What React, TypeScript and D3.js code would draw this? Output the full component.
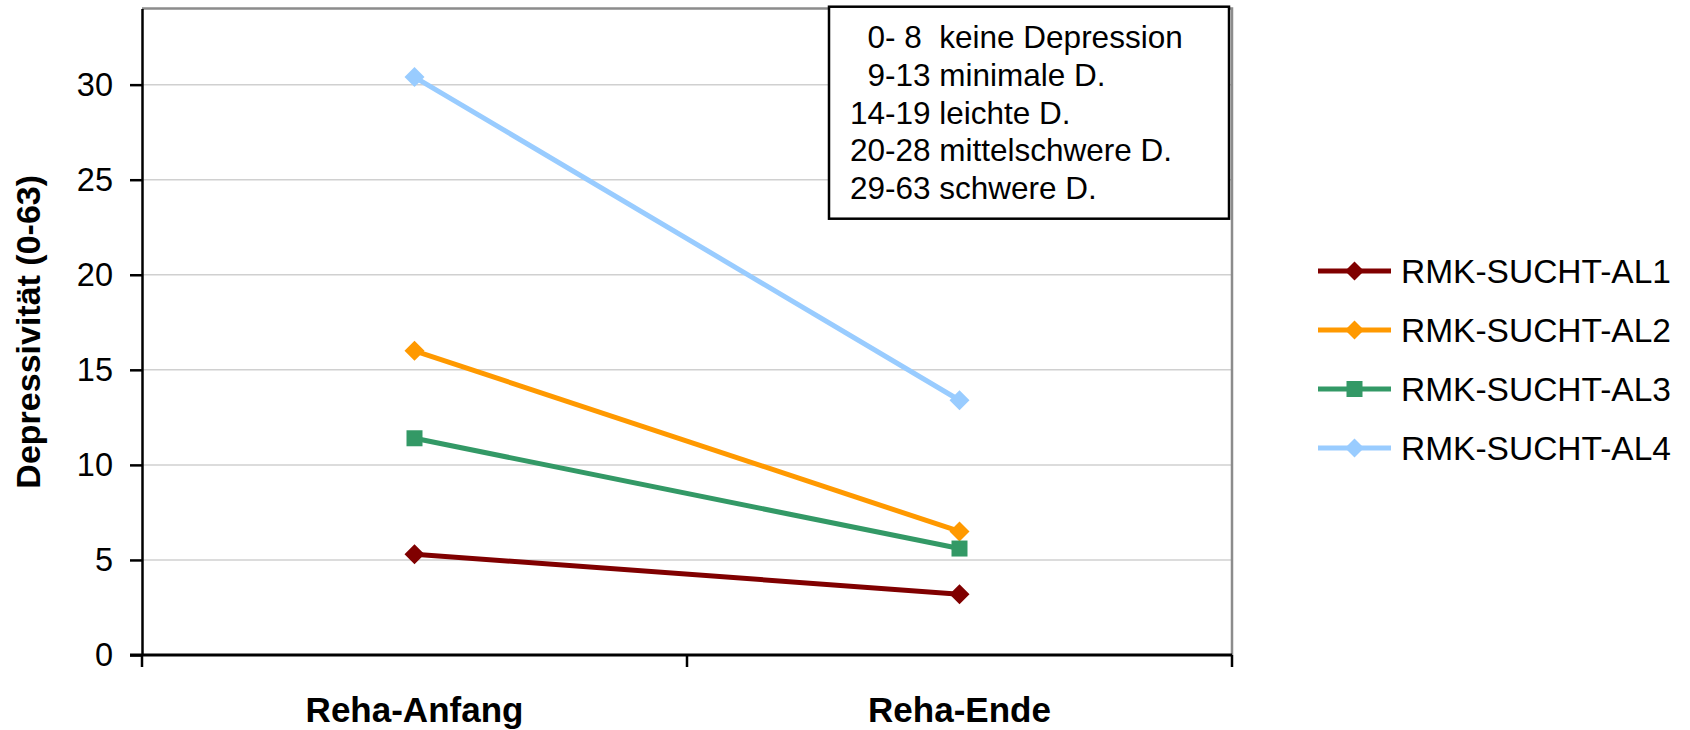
import React, { useEffect, useRef } from 'react';
import * as d3 from 'd3';

// categories on the x axis
const categories = ['Reha-Anfang', 'Reha-Ende'];

// series names and values (BDI score, 0-63)
const seriesNames = ['RMK-SUCHT-AL1', 'RMK-SUCHT-AL2', 'RMK-SUCHT-AL3', 'RMK-SUCHT-AL4'];
const al1 = [5.3, 3.2];
const al2 = [16.0, 6.5];
const al3 = [11.4, 5.6];
const al4 = [30.4, 13.4];
const seriesValues = [al1, al2, al3, al4];
const seriesColors = ['#800000', '#FF9900', '#339966', '#99CCFF'];
const seriesMarkers = ['diamond', 'diamond', 'square', 'diamond'];

// y axis
const yTicks = [0, 5, 10, 15, 20, 25, 30];
const yMax = 34;
const yTitle = 'Depressivität (0-63)';

// text box with the score ranges
const rangeLines = ['  0- 8  keine Depression', '  9-13 minimale D.', '14-19 leichte D.', '20-28 mittelschwere D.', '29-63 schwere D.'];

const W = 1690;
const H = 730;
const FONT = '"Liberation Sans", Arial, sans-serif';

const margin = { left: 142, right: W - 1232, top: 8.6, bottom: H - 655 };

function markerPath(kind: string, size: number): string {
  if (kind === 'square') {
    return d3.symbol(d3.symbolSquare, size)() as string;
  }
  // excel style diamond: a square turned 45 degrees
  const h = Math.sqrt(size / 2);
  return `M0,${-h}L${h},0L0,${h}L${-h},0Z`;
}

const App: React.FC = () => {
  const svgRef = useRef<SVGSVGElement>(null);

  useEffect(() => {
    if (!svgRef.current) return;
    const svg = d3.select(svgRef.current);
    svg.selectAll('*').remove();

    const x = d3.scaleBand<string>()
      .domain(categories)
      .range([margin.left, W - margin.right]);
    const y = d3.scaleLinear()
      .domain([0, yMax])
      .range([H - margin.bottom, margin.top]);

    const cx = (c: string) => (x(c) || 0) + x.bandwidth() / 2;

    // gridlines
    svg.append('g')
      .selectAll('line')
      .data(yTicks.filter(t => t > 0))
      .join('line')
      .attr('x1', margin.left)
      .attr('x2', W - margin.right)
      .attr('y1', d => y(d))
      .attr('y2', d => y(d))
      .attr('stroke', '#d0d0d0')
      .attr('stroke-width', 1.5);

    // plot area border (top and right)
    svg.append('path')
      .attr('d', `M${margin.left},${y(yMax)}H${W - margin.right}V${y(0)}`)
      .attr('fill', 'none')
      .attr('stroke', '#8c8c8c')
      .attr('stroke-width', 2.5);

    // y axis
    const yAxis = svg.append('g')
      .attr('transform', `translate(${margin.left},0)`)
      .call(d3.axisLeft(y).tickValues(yTicks).tickSize(12).tickSizeOuter(0).tickPadding(17));
    yAxis.select('.domain').attr('stroke', '#000').attr('stroke-width', 2.5);
    yAxis.selectAll('.tick line').attr('stroke', '#000').attr('stroke-width', 2.5);
    yAxis.selectAll('.tick text')
      .attr('font-family', FONT)
      .attr('font-size', 32.5)
      .attr('fill', '#000');

    // x axis: line, ticks between categories, labels under centers
    const xEdges = d3.range(categories.length + 1).map(i => margin.left + i * x.step());
    svg.append('line')
      .attr('x1', margin.left - 12)
      .attr('x2', W - margin.right)
      .attr('y1', y(0))
      .attr('y2', y(0))
      .attr('stroke', '#000')
      .attr('stroke-width', 3);
    svg.append('g')
      .selectAll('line')
      .data(xEdges)
      .join('line')
      .attr('x1', d => d)
      .attr('x2', d => d)
      .attr('y1', y(0))
      .attr('y2', y(0) + 12)
      .attr('stroke', '#000')
      .attr('stroke-width', 2.5);
    svg.append('g')
      .selectAll('text')
      .data(categories)
      .join('text')
      .attr('x', d => cx(d))
      .attr('y', 722)
      .attr('text-anchor', 'middle')
      .attr('font-family', FONT)
      .attr('font-weight', 'bold')
      .attr('font-size', 35)
      .text(d => d);

    // y title
    svg.append('text')
      .attr('transform', `translate(40,${(y(0) + y(yMax)) / 2}) rotate(-90)`)
      .attr('text-anchor', 'middle')
      .attr('font-family', FONT)
      .attr('font-weight', 'bold')
      .attr('font-size', 34)
      .text(yTitle);

    // series lines and markers
    const line = d3.line<number>()
      .x((_, i) => cx(categories[i]))
      .y(d => y(d));

    seriesValues.forEach((vals, si) => {
      const g = svg.append('g');
      g.append('path')
        .datum(vals)
        .attr('d', line)
        .attr('fill', 'none')
        .attr('stroke', seriesColors[si])
        .attr('stroke-width', 5);
      g.selectAll('path.mark')
        .data(vals)
        .join('path')
        .attr('class', 'mark')
        .attr('transform', (d, i) => `translate(${cx(categories[i])},${y(d)})`)
        .attr('d', markerPath(seriesMarkers[si], seriesMarkers[si] === 'square' ? 256 : 200))
        .attr('fill', seriesColors[si]);
    });

    // text box with score ranges
    const box = svg.append('g');
    box.append('rect')
      .attr('x', 829)
      .attr('y', 6.7)
      .attr('width', 400)
      .attr('height', 212)
      .attr('fill', '#fff')
      .attr('stroke', '#000')
      .attr('stroke-width', 2.5);
    box.selectAll('text')
      .data(rangeLines)
      .join('text')
      .attr('x', 850)
      .attr('y', (_, i) => 48 + i * 37.8)
      .attr('font-family', FONT)
      .attr('font-size', 31.5)
      .style('white-space', 'pre')
      .text(d => d);

    // legend
    const legend = svg.append('g');
    seriesNames.forEach((name, si) => {
      const ly = 271 + si * 59;
      const row = legend.append('g').attr('transform', `translate(0,${ly})`);
      row.append('line')
        .attr('x1', 1318)
        .attr('x2', 1391)
        .attr('stroke', seriesColors[si])
        .attr('stroke-width', 5);
      row.append('path')
        .attr('transform', 'translate(1354.5,0)')
        .attr('d', markerPath(seriesMarkers[si], seriesMarkers[si] === 'square' ? 256 : 180))
        .attr('fill', seriesColors[si]);
      row.append('text')
        .attr('x', 1401)
        .attr('y', 0)
        .attr('dy', '0.355em')
        .attr('font-family', FONT)
        .attr('font-size', 33.5)
        .text(name);
    });
  }, []);

  return (
    <svg
      ref={svgRef}
      width={W}
      height={H}
      style={{ position: 'absolute', left: 0, top: 0, background: '#fff' }}
    />
  );
};

export default App;
